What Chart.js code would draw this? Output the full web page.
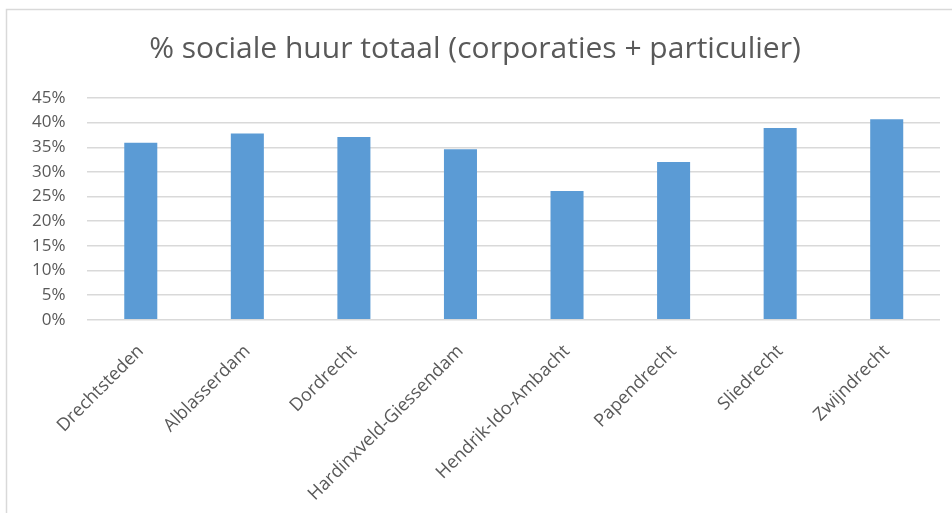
<!DOCTYPE html>
<html>
<head>
<meta charset="utf-8">
<script src="https://cdn.jsdelivr.net/npm/chart.js@4.4.1/dist/chart.umd.min.js"></script>
<style>
  html, body { margin: 0; padding: 0; background: #fff; }
  #wrap { width: 952px; height: 513px; position: relative; }
</style>
</head>
<body>
<div id="wrap"><canvas id="myChart"></canvas></div>
<script>
const gemeenten = ['Drechtsteden', 'Alblasserdam', 'Dordrecht', 'Hardinxveld-Giessendam',
  'Hendrik-Ido-Ambacht', 'Papendrecht', 'Sliedrecht', 'Zwijndrecht'];
const socialeHuur = [35.9, 37.8, 37.1, 34.6, 26.1, 32.0, 38.9, 40.7];
const yTicks = [0, 5, 10, 15, 20, 25, 30, 35, 40, 45];
const titel = '% sociale huur totaal (corporaties + particulier)';

// light frame on the top and left edge, like the cropped Excel chart
const frame = {
  id: 'frame',
  beforeDraw(chart) {
    const c = chart.ctx;
    c.save();
    c.strokeStyle = '#d9d9d9';
    c.lineWidth = 1.5;
    c.strokeRect(6.5, 9.5, 1000, 1000);
    c.restore();
  }
};

const ctx = document.getElementById('myChart');
new Chart(ctx, {
  type: 'bar',
  data: {
    labels: gemeenten,
    datasets: [{
      label: titel,
      data: socialeHuur,
      backgroundColor: '#5b9bd5',
      categoryPercentage: 1,
      barPercentage: 0.31
    }]
  },
  options: {
    responsive: true,
    maintainAspectRatio: false,
    animation: false,
    layout: { padding: { left: 10, right: 12, top: 20, bottom: -5 } },
    plugins: {
      legend: { display: false },
      tooltip: { enabled: false },
      title: {
        display: true,
        text: titel,
        color: '#595959',
        font: { family: 'Open Sans', size: 30, weight: 'normal' },
        padding: { top: 11, bottom: 31 }
      }
    },
    scales: {
      x: {
        grid: { display: false },
        border: { display: false },
        ticks: {
          color: '#595959',
          font: { family: 'Open Sans', size: 18 },
          minRotation: 45,
          maxRotation: 45,
          padding: 13
        }
      },
      y: {
        min: 0,
        max: 45,
        afterBuildTicks(axis) { axis.ticks = yTicks.map(v => ({ value: v })); },
        grid: { color: '#d9d9d9', lineWidth: 1.5, drawTicks: false },
        border: { display: false },
        ticks: {
          color: '#595959',
          font: { family: 'Open Sans', size: 17 },
          padding: 22,
          callback: v => v + '%'
        }
      }
    }
  },
  plugins: [frame]
});
</script>
</body>
</html>
